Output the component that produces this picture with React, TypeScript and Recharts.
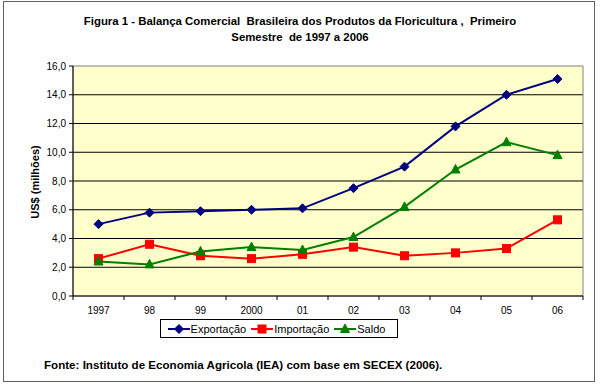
import React from 'react'
import { CartesianGrid, Line, LineChart, ReferenceArea, XAxis, YAxis } from 'recharts'

// Balança comercial da floricultura, primeiro semestre 1997–2006 (US$ milhões)
const years = ['1997', '98', '99', '2000', '01', '02', '03', '04', '05', '06']
const exportacao = [5.0, 5.8, 5.9, 6.0, 6.1, 7.5, 9.0, 11.8, 14.0, 15.1]
const importacao = [2.6, 3.6, 2.8, 2.6, 2.9, 3.4, 2.8, 3.0, 3.3, 5.3]
const saldo = [2.4, 2.2, 3.1, 3.4, 3.2, 4.1, 6.2, 8.8, 10.7, 9.8]
const yTicks = [0, 2, 4, 6, 8, 10, 12, 14, 16]

const FONT = '"Liberation Sans", Arial, sans-serif'
const NAVY = '#000080'
const RED = '#FF0000'
const GREEN = '#008000'

// points sit in the middle of each year slot, ticks on the slot borders
const data = years.map((label, i) => ({
  x: i + 0.5,
  label,
  exportacao: exportacao[i],
  importacao: importacao[i],
  saldo: saldo[i],
}))
const xTicks = Array.from({ length: years.length * 2 + 1 }, (_, i) => i / 2)

const fmt = (v: number) => v.toFixed(1).replace('.', ',')

function Diamond({ cx, cy, color = NAVY }: any) {
  if (cx == null || cy == null) return null
  const r = 4.5
  return <path d={`M${cx},${cy - r}L${cx + r},${cy}L${cx},${cy + r}L${cx - r},${cy}Z`} fill={color} stroke={color} />
}

function Square({ cx, cy, color = RED }: any) {
  if (cx == null || cy == null) return null
  return <rect x={cx - 4} y={cy - 4} width={8} height={8} fill={color} stroke={color} />
}

function Triangle({ cx, cy, color = GREEN }: any) {
  if (cx == null || cy == null) return null
  return <path d={`M${cx},${cy - 5}L${cx + 4.5},${cy + 3.5}L${cx - 4.5},${cy + 3.5}Z`} fill={color} stroke={color} />
}

function XTick({ x, y, payload }: any) {
  const v = payload.value as number
  if (Number.isInteger(v)) {
    return <line x1={x} x2={x} y1={y} y2={y + 4} stroke="#000" />
  }
  return (
    <text x={x} y={y + 18} textAnchor="middle" fontSize={10} fill="#000" fontFamily={FONT}>
      {years[Math.floor(v)]}
    </text>
  )
}

function LegendItem({ label, color, Marker }: { label: string; color: string; Marker: any }) {
  return (
    <span style={{ display: 'inline-flex', alignItems: 'center', marginRight: 5 }}>
      <svg width={22} height={12} style={{ marginRight: 1 }}>
        <line x1={0} x2={22} y1={6} y2={6} stroke={color} strokeWidth={2} />
        <Marker cx={11} cy={6} color={color} />
      </svg>
      {label}
    </span>
  )
}

export default function App() {
  return (
    <div style={{ position: 'absolute', left: 0, top: 0, width: 600, height: 385, background: '#fff', fontFamily: FONT }}>
      <div style={{ position: 'absolute', left: 3, top: 1, width: 590, height: 379, border: '1px solid #606060' }} />
      <div
        style={{
          position: 'absolute',
          left: 0,
          top: 13,
          width: 600,
          textAlign: 'center',
          fontWeight: 'bold',
          fontSize: 11.4,
          lineHeight: '16px',
          whiteSpace: 'pre',
        }}
      >
        {'Figura 1 - Balança Comercial  Brasileira dos Produtos da Floricultura ,  Primeiro\nSemestre  de 1997 a 2006'}
      </div>
      <div
        style={{
          position: 'absolute',
          left: 35,
          top: 182,
          transform: 'translate(-50%, -50%) rotate(-90deg)',
          fontWeight: 'bold',
          fontSize: 11,
          whiteSpace: 'nowrap',
        }}
      >
        US$ (milhões)
      </div>
      <div style={{ position: 'absolute', left: 0, top: 0 }}>
        <LineChart width={600} height={385} data={data} margin={{ top: 66, right: 17, bottom: 69, left: 0 }}>
          <CartesianGrid
            vertical={false}
            stroke="#000"
            fill="#FFFFCC"
            horizontalValues={[2, 4, 6, 8, 10, 12, 14]}
          />
          <ReferenceArea x1={0} x2={10} y1={0} y2={16} fill="none" stroke="#808080" ifOverflow="visible" />
          <XAxis
            dataKey="x"
            type="number"
            domain={[0, 10]}
            ticks={xTicks}
            interval={0}
            height={20}
            tickLine={false}
            tickSize={0}
            tickMargin={0}
            axisLine={{ stroke: '#000' }}
            tick={<XTick />}
          />
          <YAxis
            type="number"
            domain={[0, 16]}
            ticks={yTicks}
            interval={0}
            width={73}
            tickSize={4}
            tickMargin={3}
            axisLine={{ stroke: '#000' }}
            tickLine={{ stroke: '#000' }}
            tick={{ fill: '#000', fontSize: 10, fontFamily: FONT }}
            tickFormatter={fmt}
          />
          <Line
            dataKey="exportacao"
            name="Exportação"
            stroke={NAVY}
            strokeWidth={2}
            dot={<Diamond color={NAVY} />}
            activeDot={false}
            isAnimationActive={false}
          />
          <Line
            dataKey="importacao"
            name="Importação"
            stroke={RED}
            strokeWidth={2}
            dot={<Square color={RED} />}
            activeDot={false}
            isAnimationActive={false}
          />
          <Line
            dataKey="saldo"
            name="Saldo"
            stroke={GREEN}
            strokeWidth={2}
            dot={<Triangle color={GREEN} />}
            activeDot={false}
            isAnimationActive={false}
          />
        </LineChart>
      </div>
      <div
        style={{
          position: 'absolute',
          left: 160,
          top: 319,
          width: 236,
          height: 17,
          border: '1px solid #000',
          background: '#fff',
          display: 'flex',
          alignItems: 'center',
          justifyContent: 'center',
          fontSize: 11,
          whiteSpace: 'nowrap',
        }}
      >
        <LegendItem label="Exportação" color={NAVY} Marker={Diamond} />
        <LegendItem label="Importação" color={RED} Marker={Square} />
        <LegendItem label="Saldo" color={GREEN} Marker={Triangle} />
      </div>
      <div style={{ position: 'absolute', left: 44, top: 358, fontWeight: 'bold', fontSize: 11.6, whiteSpace: 'nowrap' }}>
        Fonte: Instituto de Economia Agricola (IEA) com base em SECEX (2006).
      </div>
    </div>
  )
}
